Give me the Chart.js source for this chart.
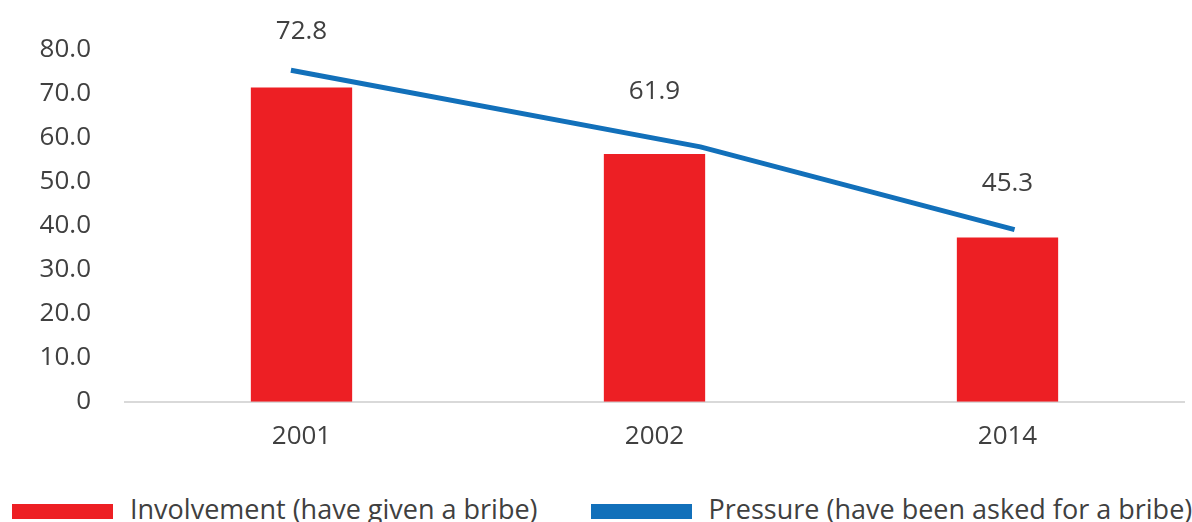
<!DOCTYPE html>
<html>
<head>
<meta charset="utf-8">
<script src="https://cdn.jsdelivr.net/npm/chart.js@4.4.1/dist/chart.umd.min.js"></script>
<style>
    html, body { margin: 0; padding: 0; background: #fff; overflow: hidden; }
    body { width: 1192px; height: 522px; position: relative; font-family: "Open Sans", sans-serif; }
    #wrap { position: absolute; left: 0; top: 0; width: 1192px; height: 485px; }
    #legend { position: absolute; left: 12px; top: 504px; height: 15px;
        display: flex; gap: 53px; }
    .item { display: flex; align-items: center; height: 15px; white-space: nowrap; }
    .box { width: 101px; height: 15px; margin-right: 17px; }
    .txt { font-size: 27px; color: #404040; line-height: 15px; position: relative; top: -3px; }
</style>
</head>
<body>
<div id="wrap"><canvas id="chart"></canvas></div>
<div id="legend"></div>
<script>
    // --- Dados ---
    const years = ['2001', '2002', '2014'];
    const involvement = [71.4, 56.3, 37.3];
    // a linha não fica centrada nas categorias no original
    const pressureX = [-0.03, 1.13, 2.02];
    const pressure = [75.3, 57.9, 39.1];
    const pressureLabels = [72.8, 61.9, 45.3];
    const yTicks = [0, 10, 20, 30, 40, 50, 60, 70, 80];

    const RED = '#ED1F24';
    const BLUE = '#1270BA';
    const TEXT = '#404040';
    const FONT = '"Open Sans", sans-serif';

    // rótulos da série Pressure (eixo auxiliar escondido)
    const lineLabels = {
        id: 'lineLabels',
        afterDatasetsDraw(chart) {
            const ctx = chart.ctx;
            const x = chart.scales.x;
            const yl = chart.scales.yLabels;
            ctx.save();
            ctx.font = '26px ' + FONT;
            ctx.fillStyle = TEXT;
            ctx.textAlign = 'center';
            ctx.textBaseline = 'middle';
            pressureLabels.forEach((v, i) => {
                ctx.fillText(v.toFixed(1), x.getPixelForValue(i), yl.getPixelForValue(v) - 22);
            });
            ctx.restore();
        }
    };

    const chart = new Chart(document.getElementById('chart'), {
        type: 'bar',
        data: {
            labels: years,
            datasets: [
                {
                    type: 'line',
                    label: 'Pressure (have been asked for a bribe)',
                    data: pressure.map((v, i) => ({ x: pressureX[i], y: v })),
                    xAxisID: 'xLine',
                    borderColor: BLUE,
                    backgroundColor: BLUE,
                    borderWidth: 5,
                    pointRadius: 0,
                    tension: 0,
                    order: 0
                },
                {
                    label: 'Involvement (have given a bribe)',
                    data: involvement,
                    backgroundColor: RED,
                    borderWidth: 0,
                    grouped: false,
                    categoryPercentage: 0.287,
                    barPercentage: 1,
                    order: 1
                }
            ]
        },
        options: {
            responsive: true,
            maintainAspectRatio: false,
            animation: false,
            layout: { padding: { top: 47, right: 8, bottom: 14, left: 0 } },
            plugins: {
                legend: { display: false },
                tooltip: { enabled: false }
            },
            scales: {
                x: {
                    grid: { display: false, drawTicks: false },
                    border: { color: '#D9D9D9', width: 2 },
                    ticks: { color: TEXT, font: { family: FONT, size: 26 }, padding: 19 }
                },
                xLine: {
                    type: 'linear',
                    display: false,
                    offset: false,
                    min: -0.5,
                    max: 2.5
                },
                y: {
                    min: 0,
                    max: 80,
                    afterFit: (s) => { s.width = 125; },
                    afterBuildTicks: (s) => { s.ticks = yTicks.map(v => ({ value: v })); },
                    grid: { display: false, drawTicks: false },
                    border: { display: false },
                    ticks: {
                        color: TEXT,
                        font: { family: FONT, size: 26 },
                        padding: 34,
                        callback: (v) => v === 0 ? '0' : v.toFixed(1)
                    }
                },
                yLabels: {
                    type: 'linear',
                    display: false,
                    min: 10,
                    max: 73.5
                }
            }
        },
        plugins: [lineLabels]
    });

    // --- Legenda ---
    const legendEl = document.getElementById('legend');
    [1, 0].forEach(i => {
        const ds = chart.data.datasets[i];
        const item = document.createElement('div');
        item.className = 'item';
        item.innerHTML = '<span class="box" style="background:' + ds.backgroundColor + '"></span><span class="txt">' + ds.label + '</span>';
        legendEl.appendChild(item);
    });
</script>
</body>
</html>
